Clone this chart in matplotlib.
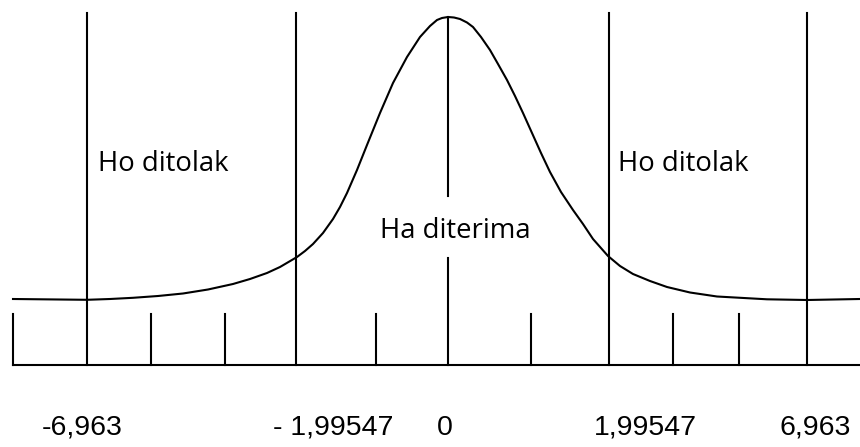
import matplotlib
matplotlib.use('Agg')
import matplotlib.pyplot as plt

# Bentuk kurva (satuan piksel: x ke kanan, y ke bawah)
curve_x = [13, 87, 110, 133, 158, 183, 208, 233, 250, 267, 280, 297, 305, 313, 323,
           333, 340, 347, 357, 367, 380, 393, 407, 420, 430, 437, 442, 448,
           454, 460, 467, 473, 481, 490, 498, 507, 515, 523, 532, 541, 550, 561,
           573, 583, 593, 608, 620, 633, 650, 667, 690, 717, 767, 807, 860]
curve_y = [299, 299.8, 299, 297.8, 296, 293.5, 289.5, 284, 279, 273, 267, 257, 251, 244, 233,
           219, 207, 193, 170, 145, 113, 83, 57, 37, 26, 20, 18, 17,
           17.5, 19, 22.5, 27, 37, 50, 64, 80, 96, 113, 133, 153, 172, 192,
           210, 224, 239, 256, 266, 274, 281, 287, 292.5, 296.5, 299.3, 300, 299]

# Garis batas daerah
boundary_x = [87, 296, 609, 807]
center_x = 448
# Garis skala kecil
minor_x = [13, 151, 225, 376, 531, 673, 739]

# Label sumbu
tick_labels = ['-6,963', '- 1,99547', '0', '1,99547', '6,963']
tick_label_x = [82, 333, 445, 645, 815]

region_labels = ['Ho ditolak', 'Ha diterima', 'Ho ditolak']
region_label_x = [98, 380, 618]
region_label_y = [171, 238, 171]

fig = plt.figure(figsize=(8.6, 4.47), dpi=100)
ax = fig.add_axes([0, 0, 1, 1])
ax.set_xlim(0, 860)
ax.set_ylim(447, 0)
ax.axis('off')

lw = 1.5
base_y = 365

# kurva
ax.plot(curve_x, curve_y, color='black', lw=lw, solid_joinstyle='round')

# garis dasar
ax.plot([13, 860], [base_y, base_y], color='black', lw=lw)

# garis vertikal panjang
for bx in boundary_x:
    ax.plot([bx, bx], [13, base_y], color='black', lw=lw)

# garis tengah (terputus di tulisan Ha diterima)
ax.plot([center_x, center_x], [17, 196], color='black', lw=lw)
ax.plot([center_x, center_x], [258, base_y], color='black', lw=lw)

# garis skala pendek
for mx in minor_x:
    ax.plot([mx, mx], [314, base_y], color='black', lw=lw)

for lab, x, y in zip(region_labels, region_label_x, region_label_y):
    ax.text(x, y, lab, ha='left', va='baseline', fontsize=19.8,
            family='Open Sans', color='black')

for lab, x in zip(tick_labels, tick_label_x):
    ax.text(x, 435, lab, ha='center', va='baseline', fontsize=20.5,
            family='Liberation Sans', color='black')

fig.savefig('out.png', dpi=100)
